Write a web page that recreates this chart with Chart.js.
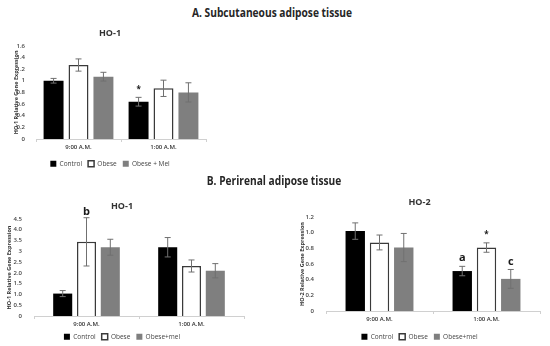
<!DOCTYPE html>
<html><head><meta charset="utf-8">
<script src="https://cdn.jsdelivr.net/npm/chart.js@4/dist/chart.umd.min.js"></script>
<style>
body{margin:0;width:550px;height:346px;background:#fff;position:relative;overflow:hidden;font-family:'Open Sans',sans-serif}
.sec{position:absolute;font-weight:700;font-size:12px;line-height:16px;color:#262626;white-space:nowrap;transform:translateX(-50%) scaleX(0.85);z-index:2}
canvas{position:absolute}
</style></head><body>
<canvas id="cA" width="215" height="153" style="left:0;top:24px"></canvas>
<canvas id="cB1" width="275" height="160" style="left:0;top:190px"></canvas>
<canvas id="cB2" width="275" height="160" style="left:275px;top:190px"></canvas>
<div class="sec" style="left:272px;top:5px">A. Subcutaneous adipose tissue</div>
<div class="sec" style="left:274px;top:173px">B. Perirenal adipose tissue</div>
<script>
// ---------- data ----------
const categories = ['9:00 A.M.', '1:00 A.M.'];

// A. Subcutaneous, HO-1
const subTicks = ['0','0.2','0.4','0.6','0.8','1','1.2','1.4','1.6'];
const subLegend = ['Control','Obese','Obese + Mel'];
const subControl = [1.00, 0.64];
const subControlErr = [0.04, 0.075];
const subControlMark = ['', '*'];
const subObese = [1.27, 0.87];
const subObeseErr = [0.105, 0.14];
const subObeseMark = ['', ''];
const subMel = [1.07, 0.80];
const subMelErr = [0.075, 0.165];
const subMelMark = ['', ''];

// B. Perirenal, HO-1
const periHo1Ticks = ['0','0.5','1.0','1.5','2.0','2.5','3','3.5','4.0','4.5'];
const periLegend = ['Control','Obese','Obese+mel'];
const periHo1Control = [1.04, 3.19];
const periHo1ControlErr = [0.14, 0.45];
const periHo1ControlMark = ['', ''];
const periHo1Obese = [3.44, 2.32];
const periHo1ObeseErr = [1.12, 0.28];
const periHo1ObeseMark = ['b', ''];
const periHo1Mel = [3.19, 2.10];
const periHo1MelErr = [0.37, 0.33];
const periHo1MelMark = ['', ''];

// B. Perirenal, HO-2
const periHo2Ticks = ['0','0.2','0.4','0.6','0.8','1.0','1.2'];
const periHo2Control = [1.02, 0.51];
const periHo2ControlErr = [0.105, 0.06];
const periHo2ControlMark = ['', 'a'];
const periHo2Obese = [0.875, 0.81];
const periHo2ObeseErr = [0.095, 0.06];
const periHo2ObeseMark = ['', '*'];
const periHo2Mel = [0.81, 0.41];
const periHo2MelErr = [0.18, 0.12];
const periHo2MelMark = ['', 'c'];

// ---------- drawing ----------
const FONT = "'Open Sans', sans-serif";
const errorBars = {
  id: 'errorBars',
  afterDatasetsDraw(chart) {
    const ctx = chart.ctx, y = chart.scales.y;
    chart.data.datasets.forEach((ds, di) => {
      const meta = chart.getDatasetMeta(di);
      meta.data.forEach((bar, i) => {
        const v = ds.data[i], e = ds.errors[i];
        const yt = y.getPixelForValue(v + e), yb = y.getPixelForValue(v - e);
        ctx.save();
        ctx.strokeStyle = '#707070'; ctx.lineWidth = 1;
        ctx.beginPath();
        ctx.moveTo(bar.x, yt); ctx.lineTo(bar.x, yb);
        ctx.moveTo(bar.x - 3, yt); ctx.lineTo(bar.x + 3, yt);
        ctx.moveTo(bar.x - 3, yb); ctx.lineTo(bar.x + 3, yb);
        ctx.stroke();
        const m = ds.marks[i];
        if (m) {
          ctx.fillStyle = '#1a1a1a';
          ctx.font = (m === '*' ? '700 8px ' : '700 11px ') + FONT;
          ctx.textAlign = 'center'; ctx.textBaseline = 'middle';
          ctx.fillText(m, bar.x, yt - (m === 'b' ? 6 : 8));
        }
        ctx.restore();
      });
    });
  }
};

function makeDatasets(legend, c, ce, cm, o, oe, om, m, me, mm) {
  return [
    {label: legend[0], data: c, errors: ce, marks: cm, backgroundColor: '#000000', borderColor: '#000000', borderWidth: 0},
    {label: legend[1], data: o, errors: oe, marks: om, backgroundColor: '#ffffff', borderColor: '#3a3a3a', borderWidth: 1.5},
    {label: legend[2], data: m, errors: me, marks: mm, backgroundColor: '#7f7f7f', borderColor: '#7f7f7f', borderWidth: 0}
  ];
}

function makeChart(id, g) {
  return new Chart(document.getElementById(id), {
    type: 'bar',
    data: {labels: categories, datasets: g.datasets},
    plugins: [errorBars],
    options: {
      responsive: false, animation: false,
      layout: {padding: g.pad},
      datasets: {bar: {categoryPercentage: g.cat, barPercentage: 0.8}},
      plugins: {
        title: {display: true, text: g.title, color: '#333', font: {family: FONT, size: 9, weight: '700'}, padding: g.titlePad},
        legend: {position: 'bottom', labels: {boxWidth: 6, boxHeight: 6, padding: 6, color: '#444', font: {family: FONT, size: 6.5}}},
        tooltip: {enabled: false}
      },
      scales: {
        x: {
          afterFit: s => { s.height = g.xh; },
          grid: {display: true, drawOnChartArea: false, tickLength: 3, color: '#d0d0d0'},
          border: {display: true, color: '#d0d0d0'},
          ticks: {color: '#333', padding: g.xPad, font: {family: FONT, size: 6, weight: '600'}}
        },
        y: {
          min: 0, max: g.max,
          afterFit: s => { s.width = g.yw; },
          grid: {display: false}, border: {display: false},
          ticks: {stepSize: g.step, autoSkip: false, padding: g.yPad, color: '#444', font: {family: FONT, size: 6, weight: '600'},
                  callback: (v, i) => g.ticks[i]},
          title: {display: true, text: g.yTitle, color: '#333', padding: {top: g.ytPad, bottom: 0}, font: {family: FONT, size: 5.5, weight: '700'}}
        }
      }
    }
  });
}

makeChart('cA', {
  title: 'HO-1', yTitle: 'HO-1 Relative Gene Expression', ticks: subTicks, max: 1.6, step: 0.2,
  datasets: makeDatasets(subLegend, subControl, subControlErr, subControlMark, subObese, subObeseErr, subObeseMark, subMel, subMelErr, subMelMark),
  pad: {left: 14, right: 9, top: 0, bottom: 0}, titlePad: {top: 4, bottom: 7}, cat: 0.88, yw: 22, yPad: 3, ytPad: -1, xPad: 2, xh: 15.5
});
makeChart('cB1', {
  title: 'HO-1', yTitle: 'HO-1 Relative Gene Expression', ticks: periHo1Ticks, max: 4.5, step: 0.5,
  datasets: makeDatasets(periLegend, periHo1Control, periHo1ControlErr, periHo1ControlMark, periHo1Obese, periHo1ObeseErr, periHo1ObeseMark, periHo1Mel, periHo1MelErr, periHo1MelMark),
  pad: {left: 0, right: 31, top: 0, bottom: 0}, titlePad: {top: 10.6, bottom: 7.6}, cat: 0.68, yw: 34, yPad: 4, ytPad: 6, xPad: 2, xh: 11.5
});
makeChart('cB2', {
  title: 'HO-2', yTitle: 'HO-2 Relative Gene Expression', ticks: periHo2Ticks, max: 1.2, step: 0.2,
  datasets: makeDatasets(periLegend, periHo2Control, periHo2ControlErr, periHo2ControlMark, periHo2Obese, periHo2ObeseErr, periHo2ObeseMark, periHo2Mel, periHo2MelErr, periHo2MelMark),
  pad: {left: 24, right: 10, top: 0, bottom: 0}, titlePad: {top: 6.6, bottom: 9.6}, cat: 0.68, yw: 27, yPad: 4, ytPad: 0, xPad: 2, xh: 16.5
});
</script>
</body></html>
